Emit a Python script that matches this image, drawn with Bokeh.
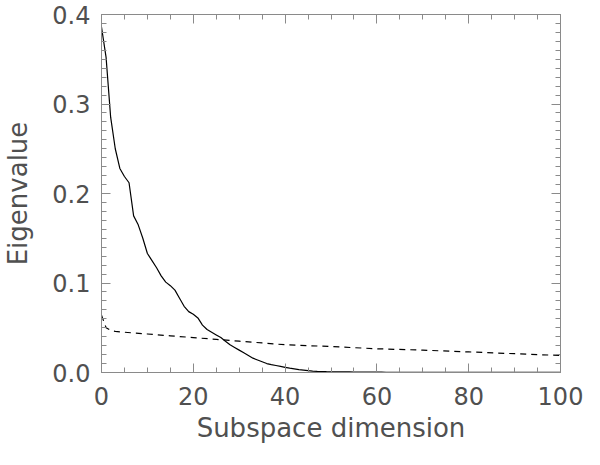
from bokeh.plotting import figure
from bokeh.models import LinearAxis, Range1d, FixedTicker, CustomJSTickFormatter
from bokeh.embed import file_html
from bokeh.resources import INLINE

# Solid curve: eigenvalues vs subspace dimension
dim_solid = list(range(0, 101))
eig_solid = [
    0.386, 0.352, 0.285, 0.250, 0.228, 0.219, 0.212, 0.175, 0.165, 0.150,
    0.133, 0.125, 0.117, 0.108, 0.101, 0.097, 0.092, 0.083, 0.074, 0.068,
    0.065, 0.061, 0.053, 0.048, 0.045, 0.042, 0.039, 0.035, 0.031, 0.028,
    0.025, 0.022, 0.019, 0.016, 0.014, 0.012, 0.010, 0.0088, 0.0078, 0.0068,
    0.0058, 0.0048, 0.0040, 0.0032, 0.0026, 0.0020, 0.0016, 0.0013, 0.0011, 0.0009,
    0.0008, 0.0007, 0.0007, 0.0006, 0.0006, 0.0005, 0.0005, 0.0005, 0.0004, 0.0004,
    0.0004, 0.0004, 0.0003, 0.0003, 0.0003, 0.0003, 0.0003, 0.0003, 0.0002, 0.0002,
    0.0002, 0.0002, 0.0002, 0.0002, 0.0002, 0.0002, 0.0002, 0.0001, 0.0001, 0.0001,
    0.0001, 0.0001, 0.0001, 0.0001, 0.0001, 0.0001, 0.0001, 0.0001, 0.0001, 0.0001,
    0.0001, 0.0001, 0.0001, 0.0001, 0.0001, 0.0001, 0.0001, 0.0001, 0.0001, 0.0001,
    0.0001,
]

# Dashed curve
dim_dashed = [0, 1, 2, 3, 5, 10, 15, 20, 25, 30, 35, 40, 50, 60, 70, 80, 90, 100]
eig_dashed = [0.064, 0.050, 0.047, 0.046, 0.045, 0.043, 0.041, 0.039, 0.037,
              0.035, 0.033, 0.031, 0.029, 0.0265, 0.025, 0.023, 0.021, 0.019]

x_ticks = [0, 20, 40, 60, 80, 100]
y_ticks = [0.0, 0.1, 0.2, 0.3, 0.4]
x_minor = list(range(0, 101, 5))
y_minor = [i / 100 for i in range(0, 41)]

FONT = "DejaVu Sans"
TXT = "#505050"
AX = "#8a8a8a"

p = figure(width=584, height=449, output_backend="svg",
           toolbar_location=None, x_range=Range1d(0, 100), y_range=Range1d(0, 0.4),
           min_border_left=101, min_border_right=24, min_border_top=14,
           min_border_bottom=77, x_axis_label="Subspace dimension",
           y_axis_label="Eigenvalue")
p.grid.visible = False
p.outline_line_color = None
p.background_fill_color = "white"
p.border_fill_color = "white"

p.line(dim_solid, eig_solid, line_color="black", line_width=1.2)
p.line(dim_dashed, eig_dashed, line_color="black", line_width=1.2, line_dash="6 5")


def style(ax, labels=True):
    ax.axis_line_color = AX
    ax.major_tick_line_color = AX
    ax.minor_tick_line_color = AX
    ax.major_tick_in = 9
    ax.major_tick_out = 0
    ax.minor_tick_in = 5
    ax.minor_tick_out = 0
    if labels:
        ax.major_label_text_font = FONT
        ax.major_label_text_font_size = "24px"
        ax.major_label_text_color = TXT
        ax.axis_label_text_font = FONT
        ax.axis_label_text_font_size = "26px"
        ax.axis_label_text_font_style = "normal"
        ax.axis_label_text_color = TXT
    else:
        ax.major_label_standoff = 0
        ax.formatter = CustomJSTickFormatter(code="return '';")


p.xaxis.ticker = FixedTicker(ticks=x_ticks, minor_ticks=x_minor)
p.yaxis.ticker = FixedTicker(ticks=y_ticks, minor_ticks=y_minor)
for a in p.xaxis:
    style(a)
    a.major_label_standoff = 14
    a.axis_label_standoff = 5
for a in p.yaxis:
    style(a)
    a.major_label_standoff = 11
    a.axis_label_standoff = 16
p.yaxis.formatter = CustomJSTickFormatter(code="return tick.toFixed(1);")

top = LinearAxis(ticker=FixedTicker(ticks=x_ticks, minor_ticks=x_minor))
style(top, labels=False)
p.add_layout(top, "above")
right = LinearAxis(ticker=FixedTicker(ticks=y_ticks, minor_ticks=y_minor))
style(right, labels=False)
p.add_layout(right, "right")

open("out.html", "w").write(file_html(p, INLINE))
